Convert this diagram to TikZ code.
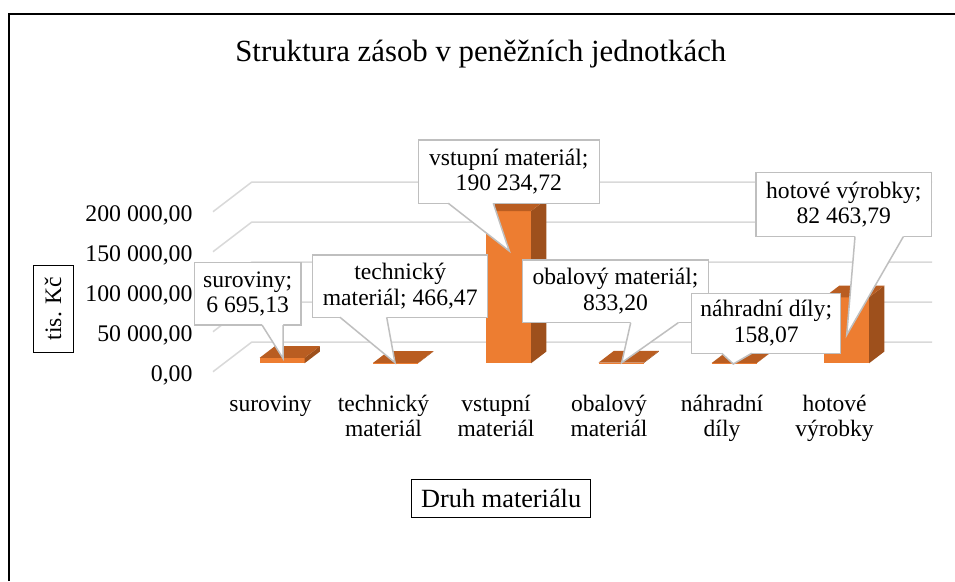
\documentclass[tikz,border=0pt]{standalone}
\usepackage{fontspec}
\setmainfont{Liberation Serif}
\usetikzlibrary{calc}
\definecolor{barfront}{HTML}{ED7D31}
\definecolor{barside}{RGB}{158,80,28}
\definecolor{bartop}{RGB}{185,93,33}
\definecolor{gridgray}{HTML}{D9D9D9}
\definecolor{boxgray}{HTML}{BFBFBF}
\newcommand{\drawbar}[2]{%
  \fill[barfront] (#1-22.5,363.3) rectangle (#1+22.5,363.3-#2);
  \fill[barside] (#1+22.5,363.3) -- ++(15.3,-11.7) -- ++(0,-#2) -- (#1+22.5,363.3-#2) -- cycle;
  \fill[bartop] (#1-22.5,363.3-#2) -- (#1+22.5,363.3-#2) -- ++(15.3,-11.7) -- ++(-45,0) -- cycle;
}
\newcommand{\calloutptr}[4]{%
  \fill[white] ($(#1.south west)+(#2,-1.2)$) -- ($(#1.south west)+(#2,0)$) -- (#4) -- ($(#1.south west)+(#3,0)$) -- ($(#1.south west)+(#3,-1.2)$) -- cycle;
  \draw[ptrline] ($(#1.south west)+(#2,0)$) -- (#4) -- ($(#1.south west)+(#3,0)$);
}
\begin{document}
\begin{tikzpicture}[x=1pt,y=-1pt,
  grid/.style={gridgray,line width=1.5pt},
  lbl/.style={draw=boxgray,line width=1.5pt,fill=white,align=center,inner sep=0pt,outer sep=0pt,
    font=\fontsize{23.6}{25.6}\selectfont},
  ptrline/.style={boxgray,line width=1.5pt,line join=miter},
  ytick/.style={anchor=base east,inner sep=0pt,font=\fontsize{23.8}{25}\selectfont},
  cat/.style={anchor=base,align=center,inner sep=0pt,font=\fontsize{23.5}{25}\selectfont},
  axbox/.style={draw=black,line width=0.8pt,inner sep=0pt,outer sep=0pt}]
\useasboundingbox (0,0) rectangle (955,581);
\fill[white] (0,0) rectangle (955,581);
% frame
\draw[line width=2pt] (8.5,581) -- (8.5,14) -- (955,14);
% title
\node[anchor=base,inner sep=0pt,font=\fontsize{30.8}{32}\selectfont] (title) at (480.8,61.7) {Struktura zásob v peněžních jednotkách};
% gridlines
\foreach \k in {0,...,4} {
  \draw[grid] (213,{371.7-40*\k}) -- (251.7,{342.1-40*\k}) -- (932,{342.1-40*\k});
}
% y tick labels
\node[ytick] (y4) at (192.7,221) {200 000,00};
\node[ytick] (y3) at (192.7,261) {150 000,00};
\node[ytick] (y2) at (192.7,301) {100 000,00};
\node[ytick] (y1) at (192.7,341) {50 000,00};
\node[ytick] (y0) at (192.7,381) {0,00};
% y axis title
\node[axbox,rotate=90,minimum width=87pt,minimum height=40pt,font=\fontsize{23.6}{25}\selectfont] (ytitle) at (53,308.5) {tis. Kč};
% bars
\drawbar{282}{5.36}
\drawbar{395.5}{0.37}
\drawbar{508.5}{152.2}
\drawbar{621}{0.67}
\drawbar{734}{0.13}
\drawbar{846.5}{65.97}
% category labels
\node[cat] (c1) at (270.5,411.7) {suroviny};
\node[cat] (c2) at (383.5,436.7) {technický\\materiál};
\node[cat] (c3) at (496,436.7) {vstupní\\materiál};
\node[cat] (c4) at (609,436.7) {obalový\\materiál};
\node[cat] (c5) at (722,436.7) {náhradní\\díly};
\node[cat] (c6) at (834.5,436.7) {hotové\\výrobky};
% x axis title
\node[axbox,minimum width=179pt,minimum height=38.7pt,font=\fontsize{26.3}{28}\selectfont] (xtitle) at (501.2,498.4) {Druh materiálu};
% data labels
\node[lbl,minimum width=106.7pt,minimum height=62.3pt] (lsur) at (247.65,293.85) {suroviny;\\6 695,13};
\coordinate (tsur) at (283,358.3);
\calloutptr{lsur}{67.7}{88.7}{tsur}
\node[lbl,minimum width=175pt,minimum height=62.3pt] (ltech) at (400.2,286.15) {technický\\materiál; 466,47};
\coordinate (ttech) at (395,362.7);
\calloutptr{ltech}{27.3}{74}{ttech}
\node[lbl,minimum width=181pt,minimum height=63.3pt] (lvst) at (508.8,171.65) {vstupní materiál;\\190 234,72};
\coordinate (tvst) at (509.3,251);
\calloutptr{lvst}{30}{75}{tvst}
\node[lbl,minimum width=185.6pt,minimum height=62.7pt] (lobal) at (615.5,291.35) {obalový materiál;\\833,20};
\coordinate (tobal) at (621.7,362.7);
\calloutptr{lobal}{108}{155.6}{tobal}
\node[lbl,minimum width=149pt,minimum height=60pt] (lnahr) at (766.2,323.3) {náhradní díly;\\158,07};
\coordinate (tnahr) at (733.3,364);
\calloutptr{lnahr}{30}{60}{tnahr}
\node[lbl,minimum width=175.7pt,minimum height=64pt] (lhot) at (843.85,204.7) {hotové výrobky;\\82 463,79};
\coordinate (thot) at (846.7,335);
\calloutptr{lhot}{99}{147.3}{thot}
\end{tikzpicture}
\end{document}
